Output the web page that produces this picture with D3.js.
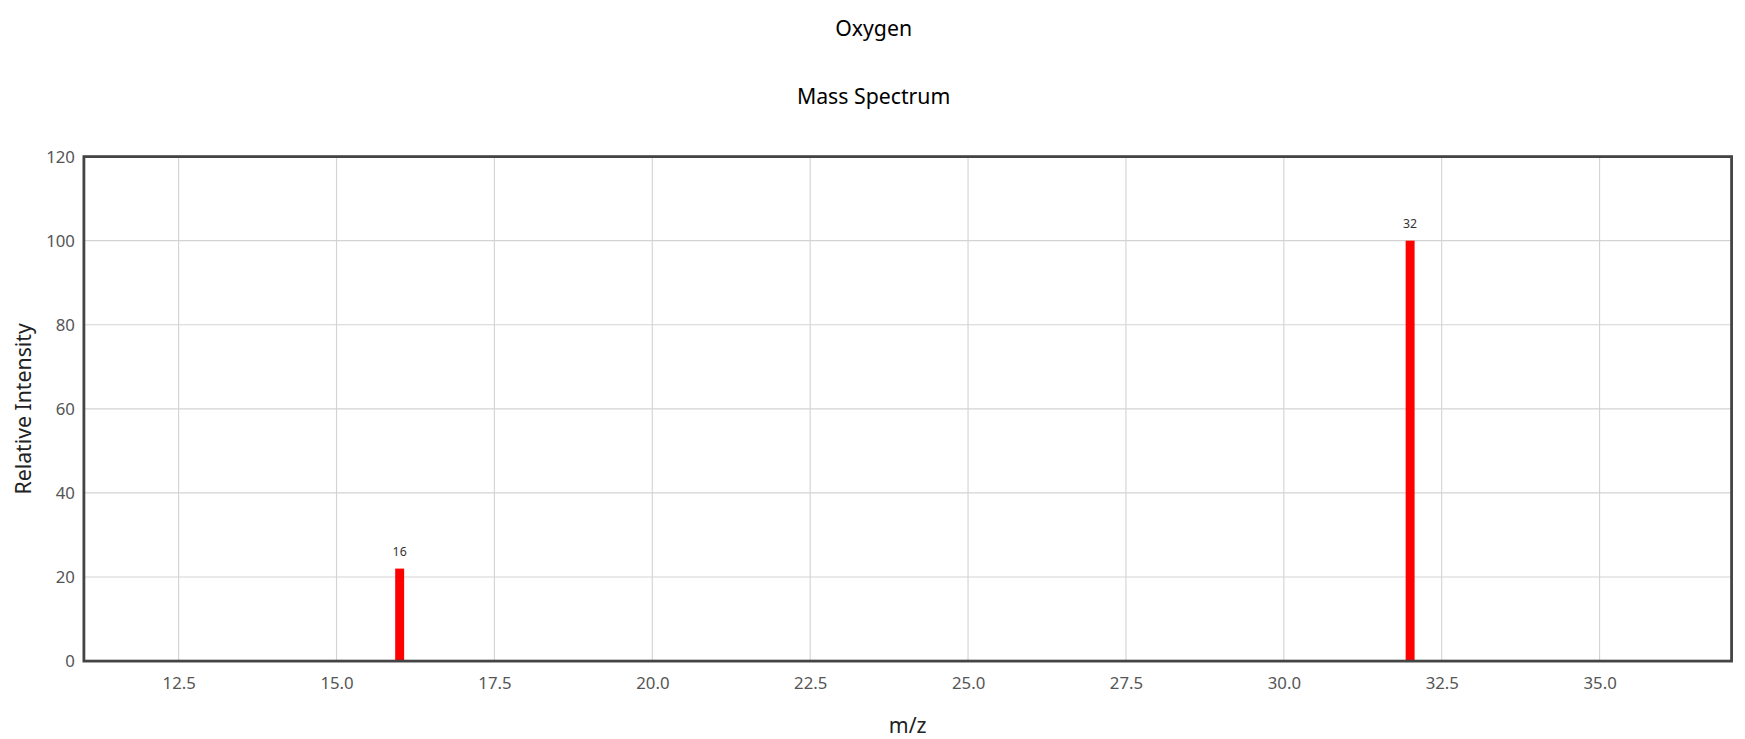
<!DOCTYPE html>
<html>
<head>
<meta charset="utf-8">
<script src="https://cdn.jsdelivr.net/npm/d3@7"></script>
<style>
  body { margin: 0; background: #fff; font-family: "Noto Sans", "Open Sans", sans-serif; }
</style>
</head>
<body>
<svg id="chart" width="1745" height="739"></svg>
<script>
// peaks of the spectrum
const mzValues = [16, 32];
const intensities = [22, 100];
const xTicks = [12.5, 15, 17.5, 20, 22.5, 25, 27.5, 30, 32.5, 35];
const yTicks = [0, 20, 40, 60, 80, 100, 120];

// layout worked out on a 1560x661 grid, scaled up to the page size
const k = 1745 / 1560;
const W = 1560, H = 661;
const svg = d3.select("#chart");
const root = svg.append("g").attr("transform", `scale(${k})`);

const margin = { left: 75, right: W - 1548, top: 140, bottom: H - 591 };
const w = W - margin.left - margin.right;
const h = H - margin.top - margin.bottom;

const x = d3.scaleLinear().domain([11, 37.09]).range([0, w]);
const y = d3.scaleLinear().domain([0, 120]).range([h, 0]);

const g = root.append("g").attr("transform", `translate(${margin.left},${margin.top})`);

// grid lines
g.selectAll(".vgrid").data(xTicks).join("line")
  .attr("x1", d => x(d)).attr("x2", d => x(d)).attr("y1", 0).attr("y2", h)
  .attr("stroke", "#d3d3d3");
g.selectAll(".hgrid").data(yTicks).join("line")
  .attr("x1", 0).attr("x2", w).attr("y1", d => y(d)).attr("y2", d => y(d))
  .attr("stroke", "#d3d3d3");

// axes
const xAxis = g.append("g").attr("transform", `translate(0,${h})`)
  .call(d3.axisBottom(x).tickValues(xTicks).tickFormat(d3.format(".1f")).tickSize(0).tickPadding(14));
const yAxis = g.append("g")
  .call(d3.axisLeft(y).tickValues(yTicks).tickSize(0).tickPadding(8));
[xAxis, yAxis].forEach(a => {
  a.select(".domain").remove();
  a.selectAll("text").attr("font-size", 15).attr("fill", "#555")
    .attr("font-family", "Noto Sans, sans-serif");
});

// bars
g.selectAll(".bar").data(mzValues).join("rect")
  .attr("x", d => x(d) - 4).attr("width", 8)
  .attr("y", (d, i) => y(intensities[i]))
  .attr("height", (d, i) => h - y(intensities[i]))
  .attr("fill", "#ff0000");

g.selectAll(".lbl").data(mzValues).join("text")
  .attr("x", d => x(d)).attr("y", (d, i) => y(intensities[i]) - 11)
  .attr("text-anchor", "middle").attr("font-size", 11).attr("fill", "#333")
  .text(d => d);

// frame
g.append("rect").attr("width", w).attr("height", h)
  .attr("fill", "none").attr("stroke", "#444").attr("stroke-width", 2.5);

// titles
root.append("text").attr("x", 781).attr("y", 32).attr("text-anchor", "middle")
  .attr("font-size", 19).attr("fill", "#000").text("Oxygen");
root.append("text").attr("x", 781).attr("y", 93).attr("text-anchor", "middle")
  .attr("font-size", 19).attr("fill", "#000").text("Mass Spectrum");
root.append("text").attr("x", margin.left + w / 2).attr("y", 655).attr("text-anchor", "middle")
  .attr("font-size", 19).attr("fill", "#222").text("m/z");
root.append("text").attr("transform", `translate(28,${margin.top + h / 2}) rotate(-90)`)
  .attr("text-anchor", "middle").attr("font-size", 19).attr("fill", "#222")
  .text("Relative Intensity");
</script>
</body>
</html>
